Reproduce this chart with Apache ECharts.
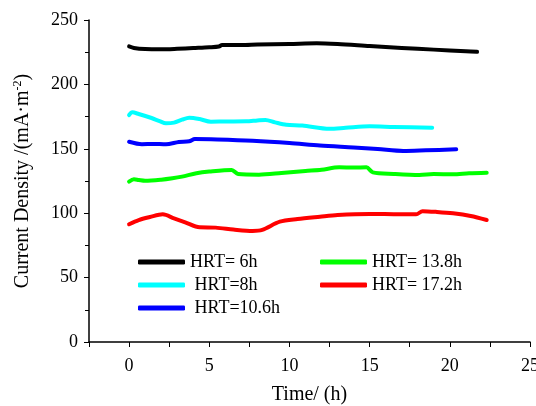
<!DOCTYPE html>
<html><head><meta charset="utf-8">
<script src="https://cdn.jsdelivr.net/npm/echarts@6/dist/echarts.min.js"></script>
<style>html,body{margin:0;padding:0;background:#fff}#c{width:536px;height:406px}</style>
</head><body><div id="c"></div>
<script>
const names = ['HRT= 6h', 'HRT=8h', 'HRT=10.6h', 'HRT= 13.8h', 'HRT= 17.2h'];
const colors = ['#000000', '#00FFFF', '#0000FF', '#00FF00', '#FF0000'];
const hrt6 = [[0,229.5],[0.3,228.3],[1,227.4],[2,227.2],[3,227.6],[4,228.2],[5,228.8],[5.6,229.4],[5.8,230.6],[7,230.5],[8,230.9],[10,231.4],[11.7,232],[13,231.4],[15,229.8],[17,228.3],[19,227],[21,225.8],[21.7,225.3]];
const hrt8 = [[0,176.2],[0.2,178.3],[0.6,177],[1.4,173.9],[1.9,171.5],[2.3,169.8],[2.8,170.3],[3.3,172.6],[3.75,174.2],[4.4,173.1],[5.1,171],[6,171.2],[7.3,171.3],[8,172],[8.5,172.4],[9.1,170.5],[9.8,168.6],[10.8,168],[12.5,165.5],[13.5,166.3],[15,167.5],[16.5,167],[18.9,166.4]];
const hrt106 = [[0,155.5],[0.8,153.6],[1.5,153.8],[2.3,153.5],[3.1,155.3],[3.75,155.8],[4.1,157.6],[5.5,157.3],[7.7,156.3],[10,154.5],[11.9,152.5],[14,151],[15.5,149.8],[17.1,148.3],[18.5,148.8],[20.4,149.6]];
const hrt138 = [[0,124.5],[0.3,126.3],[0.6,125.8],[1,125.2],[2,126],[2.7,127.1],[3.3,128.4],[4.2,131],[5,132.3],[6.4,133.6],[6.8,130.4],[8.1,129.9],[9.5,131.2],[11,132.8],[12,133.8],[13.1,135.6],[14,135.4],[14.8,135.6],[15.2,131.7],[16.5,130.5],[18.1,129.7],[19,130.4],[20.2,130.2],[21.2,131],[22.3,131.4]];
const hrt172 = [[0,91.4],[0.6,94.7],[1.3,97],[2.1,99.1],[2.8,96],[3.5,92.9],[4.4,89],[5.4,88.8],[6.5,87.3],[7.7,86.2],[8.3,87],[9.4,93.4],[10.5,95.5],[11.9,97.3],[13,98.6],[15,99.4],[16.5,99.2],[17.9,99.1],[18.3,101.6],[19.2,101],[20.2,99.9],[21.3,97.8],[22.3,94.7]];
const seriesData = [hrt6, hrt8, hrt106, hrt138, hrt172];
const xTicks = [0, 5, 10, 15, 20, 25];
const yTicks = [0, 50, 100, 150, 200, 250];

const font = 'Liberation Serif';
const legendText = {fontFamily: font, fontSize: 18, color: '#000', lineHeight: 18};
const indented = ['HRT=8h', 'HRT=10.6h'];
const chart = echarts.init(document.getElementById('c'));
chart.setOption({
  animation: false,
  backgroundColor: '#fff',
  grid: {left: 89, right: 6, top: 20, bottom: 64, containLabel: false, outerBoundsMode: 'none'},
  legend: [
    {data: names.slice(0, 3), orient: 'vertical', left: 138, top: 253, padding: 0, itemWidth: 47, itemHeight: 5, icon: 'roundRect', itemGap: 5, textStyle: legendText,
     formatter: n => indented.includes(n) ? ' ' + n : n},
    {data: names.slice(3), orient: 'vertical', left: 320, top: 253, padding: 0, itemWidth: 47, itemHeight: 5, icon: 'roundRect', itemGap: 5, textStyle: legendText}
  ],
  xAxis: {
    type: 'value', min: -2.5, max: 25, interval: 2.5,
    name: 'Time/ (h)', nameLocation: 'middle', nameGap: 43,
    nameTextStyle: {fontFamily: font, fontSize: 20, color: '#000'},
    axisLine: {show: true, onZero: false, lineStyle: {color: '#000', width: 1.5}},
    axisTick: {show: true, inside: false, length: 5, lineStyle: {color: '#000', width: 1}},
    axisLabel: {show: true, fontFamily: font, fontSize: 18, color: '#000', margin: 15,
      formatter: v => xTicks.includes(v) ? String(v) : ''},
    splitLine: {show: false}
  },
  yAxis: {
    type: 'value', min: 0, max: 250, interval: 50,
    name: 'Current Density /(mA·m{sup|-2})', nameLocation: 'middle', nameGap: 56,
    nameTextStyle: {fontFamily: font, fontSize: 20, color: '#000',
      rich: {sup: {fontFamily: font, fontSize: 12, color: '#000', verticalAlign: 'top', padding: [0, 0, 9, 0]}}},
    axisLine: {show: true, onZero: false, lineStyle: {color: '#000', width: 1.5}},
    axisTick: {show: true, inside: false, length: 5, lineStyle: {color: '#000', width: 1}},
    minorTick: {show: true, splitNumber: 2, length: 4, lineStyle: {color: '#000', width: 1}},
    axisLabel: {show: true, fontFamily: font, fontSize: 18, color: '#000', margin: 11,
      formatter: v => yTicks.includes(v) ? String(v) : ''},
    splitLine: {show: false}
  },
  series: names.map((n, i) => ({
    name: n, type: 'line', data: seriesData[i], showSymbol: false, smooth: 0.3,
    color: colors[i], lineStyle: {width: 4, color: colors[i], cap: 'round', join: 'round'}
  }))
});
</script></body></html>
